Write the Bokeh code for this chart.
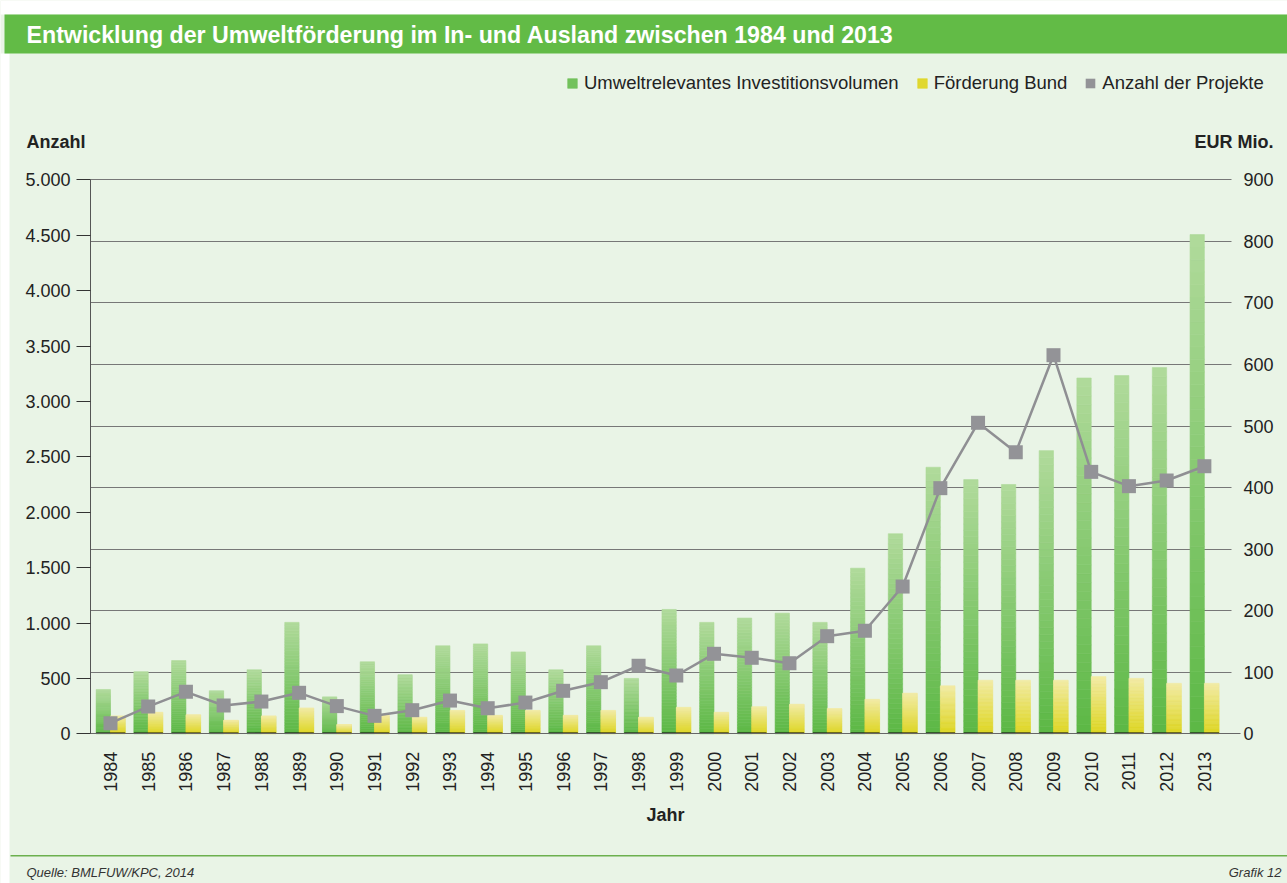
import math
from bokeh.plotting import figure
from bokeh.models import (Range1d, LinearAxis, FixedTicker, CustomJSTickFormatter, Legend,
                          LegendItem, Label, BoxAnnotation, ColumnDataSource, Grid)
from bokeh.embed import file_html
from bokeh.resources import INLINE

# ---------------- data ----------------
years = list(range(1984, 2014))
investitionsvolumen = [72, 101, 119, 70, 104, 181, 60, 117, 96, 143, 146, 133, 104, 143, 90,
                       202, 181, 188, 196, 181, 269, 325, 433, 413, 405, 460, 578, 582, 595, 811]
foerderung_bund = [29, 35, 31, 22, 29, 42, 15, 30, 27, 38, 30, 38, 30, 38, 27,
                   43, 35, 44, 48, 41, 56, 66, 78, 87, 87, 87, 93, 90, 82, 82]
anzahl_projekte = [96, 246, 379, 255, 291, 370, 250, 162, 213, 300, 231, 282, 388, 466, 614,
                   526, 722, 686, 637, 881, 930, 1329, 2217, 2807, 2541, 3417, 2364, 2235, 2286, 2415]
left_ticks = list(range(0, 5001, 500))
right_ticks = list(range(0, 901, 100))

TITLE = "Entwicklung der Umweltförderung im In- und Ausland zwischen 1984 und 2013"
FONT = "Liberation Sans"
BG = "#e9f4e6"
BANNER = "#62bb46"
TXT = "#222222"

W, H = 1287, 883
N = 40

# ---- layout geometry (page pixels -> data units) ----
X_AT_AXIS = 1983.47      # x value at the left axis line
PX_PER_YEAR = 37.72
AXIS_LEFT_PX, AXIS_RIGHT_PX = 90, 1231
Y0_PX = 733.3            # baseline
PX_PER_EUR = 0.61556
PX_PER_ANZ = 0.1108


def xd(px):
    return X_AT_AXIS + (px - AXIS_LEFT_PX) / PX_PER_YEAR


def yd(py):
    return (Y0_PX - py) / PX_PER_EUR


def ad(py):
    return (Y0_PX - py) / PX_PER_ANZ


def mix(c0, c1, t):
    a = [int(c0[i:i + 2], 16) for i in (1, 3, 5)]
    b = [int(c1[i:i + 2], 16) for i in (1, 3, 5)]
    return "#%02x%02x%02x" % tuple(round(a[j] + (b[j] - a[j]) * t) for j in range(3))


def slices(values, offset, c_bottom, c_top):
    xs, bs, ts, cs = [], [], [], []
    for yr, v in zip(years, values):
        for k in range(N):
            xs.append(yr + offset)
            bs.append(v * k / N)
            ts.append(v * (k + 1) / N)
            cs.append(mix(c_bottom, c_top, (k + 0.5) / N))
    return ColumnDataSource(dict(x=xs, bottom=bs, top=ts, color=cs))


p = figure(width=W, height=H, output_backend="svg", toolbar_location=None,
           x_range=Range1d(xd(0), xd(W)), y_range=Range1d(yd(H), yd(0)),
           x_axis_location=None, y_axis_location=None,
           min_border=0, min_border_left=0, min_border_right=0, min_border_top=0, min_border_bottom=0,
           background_fill_color=BG, border_fill_color=BG, outline_line_color=None)
p.renderers = [r for r in p.renderers if not isinstance(r, Grid)]
p.center = [r for r in p.center if not isinstance(r, Grid)]
p.extra_y_ranges = {"anzahl": Range1d(ad(H), ad(0))}

# ---- right axis (EUR Mio.), its inward ticks act as the horizontal grid ----
right = LinearAxis(fixed_location=xd(AXIS_RIGHT_PX), bounds=(0, 900),
                   ticker=FixedTicker(ticks=right_ticks), level="underlay")
right.axis_line_color = None
right.major_tick_line_color = "#777777"
right.major_tick_line_width = 1
right.major_tick_in = AXIS_RIGHT_PX - AXIS_LEFT_PX
right.major_tick_out = 0
right.minor_tick_line_color = None
right.major_label_standoff = 12
right.major_label_text_font = FONT
right.major_label_text_font_size = "18px"
right.major_label_text_color = TXT
p.add_layout(right, "right")

# ---- left axis (Anzahl) ----
left = LinearAxis(y_range_name="anzahl", fixed_location=xd(AXIS_LEFT_PX), bounds=(0, 5000),
                  ticker=FixedTicker(ticks=left_ticks),
                  formatter=CustomJSTickFormatter(code=r"return tick.toFixed(0).replace(/\B(?=(\d{3})+(?!\d))/g, '.');"))
left.axis_line_color = "#555555"
left.major_tick_line_color = "#333333"
left.major_tick_out = 14
left.major_tick_in = 0
left.minor_tick_line_color = None
left.major_label_standoff = 6
left.major_label_text_font = FONT
left.major_label_text_font_size = "18px"
left.major_label_text_color = TXT
p.add_layout(left, "left")

# ---- x axis ----
xax = LinearAxis(fixed_location=0, bounds=(xd(AXIS_LEFT_PX), xd(1240)), ticker=FixedTicker(ticks=years))
xax.major_label_orientation = math.pi / 2
xax.major_tick_line_color = None
xax.minor_tick_line_color = None
xax.axis_line_color = "#666666"
xax.major_label_standoff = 12
xax.major_label_text_font = FONT
xax.major_label_text_font_size = "18px"
xax.major_label_text_color = TXT
xax.axis_label = "Jahr"
xax.axis_label_text_font = FONT
xax.axis_label_text_font_style = "bold"
xax.axis_label_text_font_size = "18px"
xax.axis_label_text_color = TXT
xax.axis_label_standoff = 10
p.add_layout(xax, "below")

# ---- bars (vertical colour gradient via stacked slices) ----
g_src = slices(investitionsvolumen, -0.19, "#5cb845", "#b0da9b")
y_src = slices(foerderung_bund, 0.195, "#ddd51c", "#f2eba4")
g_r = p.vbar(x="x", width=0.38, bottom="bottom", top="top", source=g_src,
             fill_color="color", line_color="color", line_width=0.6)
y_r = p.vbar(x="x", width=0.39, bottom="bottom", top="top", source=y_src,
             fill_color="color", line_color="color", line_width=0.6)
p.vbar(x=[yr + 0.005 for yr in years], width=0.77, bottom=0, top=2.2,
       fill_color="#111111", line_color=None)

# ---- line: Anzahl der Projekte ----
p.line(years, anzahl_projekte, y_range_name="anzahl", line_color="#8f8f93", line_width=2.5)
m_r = p.rect(x=years, y=anzahl_projekte, width=14, height=14, width_units="screen",
             height_units="screen", y_range_name="anzahl", fill_color="#939397", line_color=None)

# ---- page decoration ----
p.add_layout(BoxAnnotation(bottom=yd(14), fill_color="white", fill_alpha=1, line_color=None))
p.add_layout(BoxAnnotation(right=xd(9), top=yd(53), fill_color="white", fill_alpha=1, line_color=None))
p.add_layout(BoxAnnotation(left=xd(4), top=yd(14), bottom=yd(53), fill_color=BANNER, fill_alpha=1,
                           line_color=None))
p.add_layout(BoxAnnotation(left=xd(10), top=yd(854.5), bottom=yd(856), fill_color="#6cb04e",
                           fill_alpha=1, line_color=None))

legend = Legend(items=[
    LegendItem(label="Umweltrelevantes Investitionsvolumen", renderers=[g_r], index=N // 4),
    LegendItem(label="Förderung Bund", renderers=[y_r], index=N // 8),
    LegendItem(label="Anzahl der Projekte", renderers=[m_r], index=0),
], orientation="horizontal", location=(566, H - 93.5), glyph_width=12, glyph_height=12,
    label_standoff=6, spacing=17, padding=0, margin=0, background_fill_alpha=0,
    border_line_color=None, label_text_font=FONT, label_text_font_size="18.5px",
    label_text_color=TXT, label_height=12)
p.add_layout(legend)

p.add_layout(Label(x=xd(26), y=yd(34), text=TITLE, text_font=FONT, text_font_style="bold",
                   text_font_size="23.2px", text_color="white", text_baseline="middle"))
p.add_layout(Label(x=xd(26), y=yd(141), text="Anzahl", text_font=FONT, text_font_style="bold",
                   text_font_size="18px", text_color=TXT, text_baseline="middle"))
p.add_layout(Label(x=xd(1273), y=yd(141), text="EUR Mio.", text_font=FONT, text_font_style="bold",
                   text_font_size="18px", text_color=TXT, text_baseline="middle", text_align="right"))
p.add_layout(Label(x=xd(26), y=yd(872), text="Quelle: BMLFUW/KPC, 2014", text_font=FONT,
                   text_font_style="italic", text_font_size="13px", text_color="#333333",
                   text_baseline="middle"))
p.add_layout(Label(x=xd(1281), y=yd(872), text="Grafik 12", text_font=FONT, text_font_style="italic",
                   text_font_size="13px", text_color="#333333", text_baseline="middle", text_align="right"))

open("out.html", "w").write(file_html(p, INLINE))
